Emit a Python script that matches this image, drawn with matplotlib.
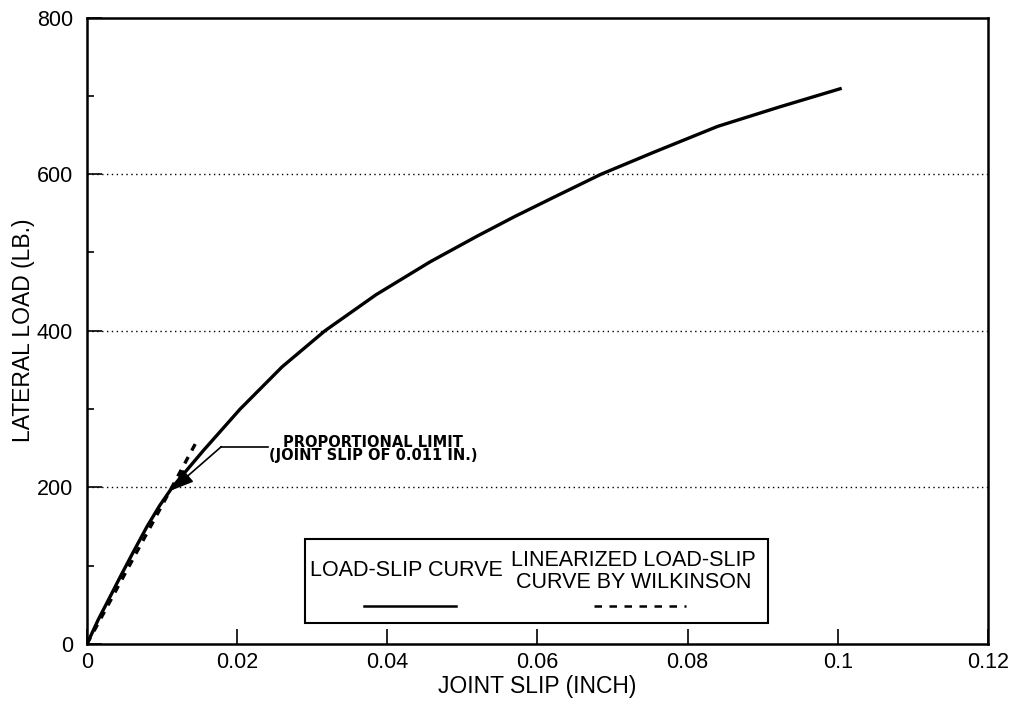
import numpy as np
import matplotlib.pyplot as plt
from matplotlib.patches import Rectangle

# load-slip curve
slip = [0, 0.0015, 0.0029, 0.0045, 0.0062, 0.008, 0.0097, 0.01136, 0.0155,
        0.0204, 0.026, 0.0317, 0.0385, 0.0457, 0.052, 0.057, 0.0625, 0.0685,
        0.0755, 0.084, 0.0923, 0.1003]
load = [0, 31, 57, 87, 118, 150, 177, 200, 247,
        300, 354, 400, 446, 488, 521, 546, 572, 600,
        628, 661, 686, 709]

# linearized curve (Wilkinson)
lin_slip = [0, 0.0148]
lin_load = [0, 262]

xticks = [0, 0.02, 0.04, 0.06, 0.08, 0.1, 0.12]
xlabels = ['0', '0.02', '0.04', '0.06', '0.08', '0.1', '0.12']
yticks = [0, 200, 400, 600, 800]

plt.rcParams['font.family'] = ['Liberation Sans', 'DejaVu Sans']

fig = plt.figure(figsize=(10.17, 7.09), dpi=100)
ax = fig.add_axes([0.0855, 0.0917, 0.886, 0.8836])

ax.plot(slip, load, color='black', lw=2.4, solid_joinstyle='round')
ax.plot(lin_slip, lin_load, color='black', lw=2.4, ls=(0, (2.2, 2.2)))

for g in [200, 400, 600]:
    ax.axhline(g, color='black', lw=1.0, ls=(0, (1, 2.5)), zorder=0)

ax.set_xlim(0, 0.12)
ax.set_ylim(0, 800)
ax.set_xticks(xticks)
ax.set_xticklabels(xlabels)
ax.set_yticks(yticks)
ax.set_yticks([100, 300, 500, 700], minor=True)
ax.tick_params(axis='both', which='major', direction='in', length=11, width=1.2,
               labelsize=15.5)
ax.tick_params(axis='y', which='minor', direction='in', length=5, width=1.2)
ax.tick_params(axis='x', pad=6)
ax.tick_params(axis='y', pad=10)
for s in ax.spines.values():
    s.set_linewidth(1.8)

ax.set_xlabel('JOINT SLIP (INCH)', fontsize=16.5, labelpad=1)
ax.set_ylabel('LATERAL LOAD (LB.)', fontsize=16.5, labelpad=1)

# proportional limit annotation
ax.plot([0.0179, 0.0241], [252, 252], color='black', lw=1.2)
ax.annotate('', xy=(0.0112, 196), xytext=(0.0179, 252),
            arrowprops=dict(arrowstyle='-|>,head_length=1.4,head_width=0.5',
                            color='black', lw=1.2, shrinkA=0, shrinkB=0))
ax.text(0.0381, 249, 'PROPORTIONAL LIMIT\n(JOINT SLIP OF 0.011 IN.)',
        fontsize=10.5, fontweight='bold', ha='center', va='center',
        linespacing=0.8, family=['DejaVu Sans'])

# legend box
ax.add_patch(Rectangle((0.0290, 27), 0.0617, 107, fill=False, edgecolor='black',
                       lw=1.5, zorder=3))
ax.text(0.0426, 94, 'LOAD-SLIP CURVE', fontsize=15.5, ha='center', va='center')
ax.plot([0.0369, 0.0491], [48, 48], color='black', lw=1.8)
ax.text(0.0728, 107, 'LINEARIZED LOAD-SLIP', fontsize=15.5, ha='center', va='center')
ax.text(0.0728, 79, 'CURVE BY WILKINSON', fontsize=15.5, ha='center', va='center')
ax.plot([0.0675, 0.0798], [48, 48], color='black', lw=1.8, ls=(0, (3, 3)))

fig.savefig('out.png', dpi=100)
